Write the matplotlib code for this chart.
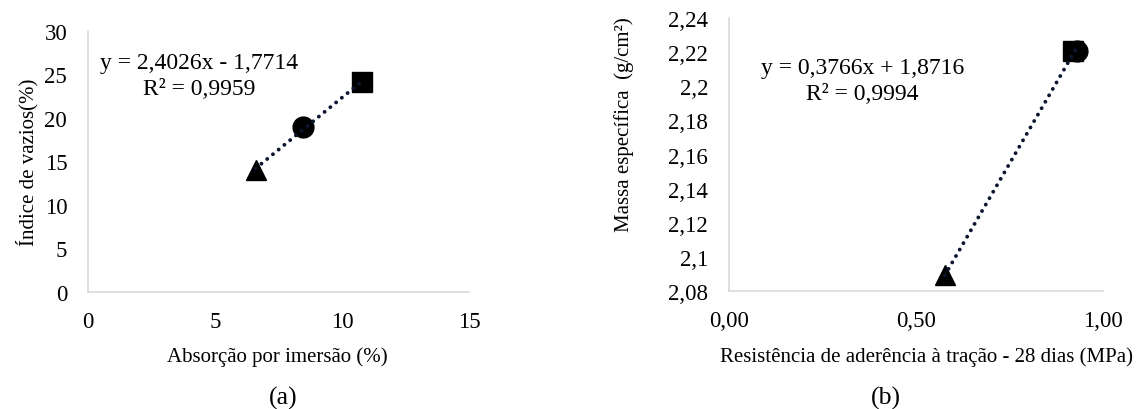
import numpy as np
import matplotlib.pyplot as plt
from matplotlib.ticker import FuncFormatter, MultipleLocator

plt.rcParams['font.family'] = ['Liberation Serif', 'DejaVu Serif']

# (a) absorção x índice de vazios
absorcao = [6.6, 8.45, 10.8]
vazios = [14.0, 19.0, 24.1]
marcadores_a = ['^', 'o', 's']
# (b) resistência de aderência x massa específica
aderencia = [0.577, 0.92, 0.93]
massa = [2.089, 2.221, 2.221]
marcadores_b = ['^', 's', 'o']

fig = plt.figure(figsize=(11.39, 4.10), dpi=100)
ax1 = fig.add_axes([0.0773, 0.2854, 0.3345, 0.6366])
ax2 = fig.add_axes([0.640, 0.2885, 0.3284, 0.6644])

tick_fs = 16.5
lab_fs = 15.0
eq_fs = 17.0
grey = '#d9d9d9'
line_col = '#0b1530'
tam = {'^': 15, 'o': 15, 's': 14.4}


def style(ax):
    for s in ['top', 'right']:
        ax.spines[s].set_visible(False)
    for s in ['left', 'bottom']:
        ax.spines[s].set_color(grey)
        ax.spines[s].set_linewidth(1.2)
    ax.tick_params(length=0, labelsize=tick_fs)
    ax.tick_params(axis='y', pad=15)
    ax.tick_params(axis='x', pad=14)


def trend(ax, x, y):
    a, b = np.polyfit(x, y, 1)
    xs = np.array([min(x), max(x)])
    ax.plot(xs, a * xs + b, color=line_col, lw=2.8,
            linestyle=(0, (0.01, 1.9)), dash_capstyle='round', zorder=3)


# gráfico (a)
style(ax1)
for x, y, m in zip(absorcao, vazios, marcadores_a):
    ax1.plot(x, y, marker=m, color='black', markersize=tam[m], zorder=2)
trend(ax1, absorcao, vazios)
ax1.set_xlim(0, 15)
ax1.set_ylim(0, 30)
ax1.xaxis.set_major_locator(MultipleLocator(5))
ax1.yaxis.set_major_locator(MultipleLocator(5))
ax1.set_xlabel('Absorção por imersão (%)', fontsize=lab_fs, va='center')
ax1.xaxis.set_label_coords(0.497, -0.245)
ax1.set_ylabel('Índice de vazios(%)', fontsize=lab_fs, va='center')
ax1.yaxis.set_label_coords(-0.160, 0.502)
fig.text(0.175, 0.813, 'y = 2,4026x - 1,7714\nR² = 0,9959', fontsize=eq_fs,
         ha='center', va='center', linespacing=1.3)
fig.text(0.2485, 0.027, '(a)', fontsize=18.5, ha='center', va='center')

# gráfico (b)
style(ax2)
for x, y, m in zip(aderencia, massa, marcadores_b):
    ax2.plot(x, y, marker=m, color='black', markersize=tam[m], zorder=2)
trend(ax2, aderencia, massa)
ax2.set_xlim(0, 1)
ax2.set_ylim(2.08, 2.24)
ax2.xaxis.set_major_locator(MultipleLocator(0.5))
ax2.yaxis.set_major_locator(MultipleLocator(0.02))
ax2.xaxis.set_major_formatter(FuncFormatter(lambda v, p: f'{v:.2f}'.replace('.', ',')))
ax2.yaxis.set_major_formatter(FuncFormatter(lambda v, p: f'{round(v, 2):g}'.replace('.', ',')))
ax2.set_xlabel('Resistência de aderência à tração - 28 dias (MPa)', fontsize=lab_fs, va='center')
ax2.xaxis.set_label_coords(0.528, -0.24)
ax2.set_ylabel('Massa específica  (g/cm²)', fontsize=lab_fs, va='center')
ax2.yaxis.set_label_coords(-0.281, 0.612)
fig.text(0.757, 0.801, 'y = 0,3766x + 1,8716\nR² = 0,9994', fontsize=eq_fs,
         ha='center', va='center', linespacing=1.3)
fig.text(0.778, 0.027, '(b)', fontsize=18.5, ha='center', va='center')

fig.savefig('out.png', dpi=100)
